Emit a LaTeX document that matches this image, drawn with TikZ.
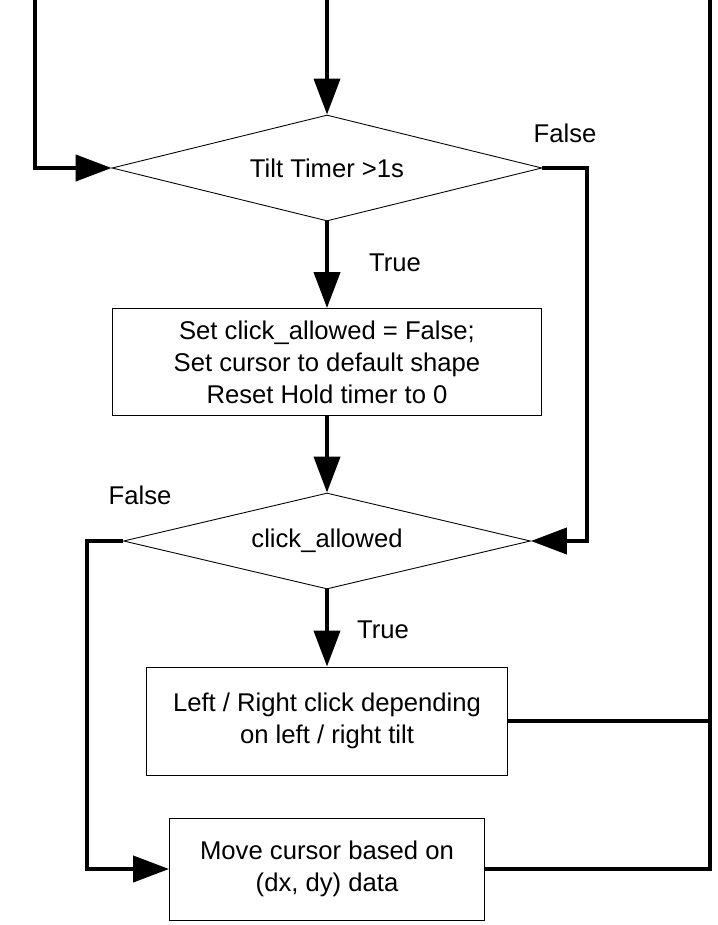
\documentclass[tikz,border=0pt]{standalone}
\usepackage{fontspec}
\setmainfont{Liberation Sans}
\usepackage{tikz}
\usetikzlibrary{arrows.meta, positioning, shapes.geometric}

\begin{document}
\begin{tikzpicture}[x=0.02cm, y=-0.02cm,
    font=\fontsize{14.6}{18.2}\selectfont,
    decision/.style={diamond, draw, line width=0.5pt, aspect=4, inner sep=0pt},
    process/.style={rectangle, draw, line width=0.5pt, align=center, inner sep=0pt},
    flow/.style={line width=2.3pt},
    flowarrow/.style={flow, -{Triangle[length=0.72cm, width=0.52cm]}}]
  \useasboundingbox (0,0) rectangle (717,925);

  % entry points at the top
  \coordinate (inLeft) at (35,0);
  \coordinate (inMid) at (327,0);
  \coordinate (inRight) at (710,0);

  \node[decision, minimum width=8.6cm, minimum height=2.12cm] (tilt) at (327,168) {Tilt Timer >1s};
  \node[process, minimum width=8.58cm, minimum height=2.14cm] (reset) at (327,362)
    {Set click\_allowed = False;\\Set cursor to default shape\\Reset Hold timer to 0};
  \node[decision, minimum width=8.14cm, minimum height=1.92cm] (allowed) at (327,541) {click\_allowed};
  \node[process, minimum width=7.22cm, minimum height=2.16cm] (click) at (327,721)
    {Left / Right click depending\\on left / right tilt};
  \node[process, minimum width=6.3cm, minimum height=2.04cm] (move) at (327,869)
    {Move cursor based on\\(dx, dy) data};

  \node (falseTilt) at (565,133) {False};
  \node (trueTilt) at (395,263) {True};
  \node (falseAllowed) at (140,495) {False};
  \node (trueAllowed) at (383,630) {True};

  \draw[flowarrow] (inMid) -- (tilt.north);
  \draw[flowarrow] (inLeft) -- (inLeft |- tilt.west) -- (tilt.west);
  \draw[flowarrow] (tilt.south) -- (reset.north);
  \draw[flowarrow] (reset.south) -- (allowed.north);
  \draw[flowarrow] (allowed.south) -- (click.north);
  \draw[flowarrow] (tilt.east) -- (587,168) -- (587,541) -- (allowed.east);
  \draw[flowarrow] (allowed.west) -- (87,541) -- (87,869) -- (move.west);
  \draw[flow] (click.east) -- (click.east -| inRight);
  \draw[flow] (move.east) -- (move.east -| inRight) -- (inRight);
\end{tikzpicture}
\end{document}
